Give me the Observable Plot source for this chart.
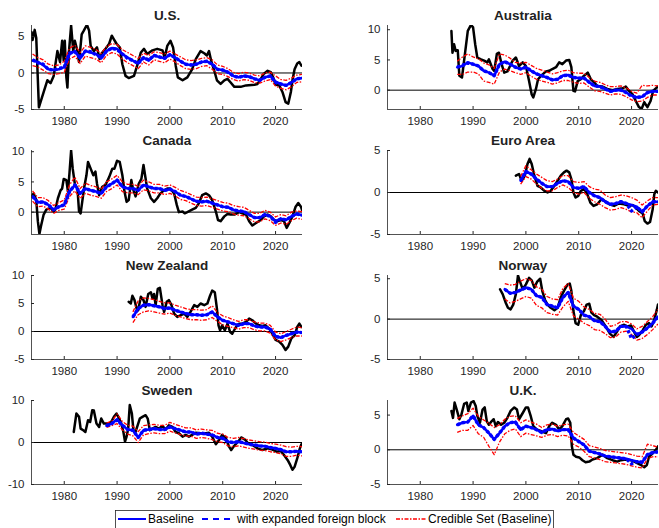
<!DOCTYPE html>
<html><head><meta charset="utf-8">
<script src="https://cdn.jsdelivr.net/npm/d3@7"></script>
<script src="https://cdn.jsdelivr.net/npm/@observablehq/plot@0.6"></script>
<style>
html,body{margin:0;padding:0;background:#fff;}
#chart{position:relative;width:659px;height:528px;overflow:hidden;font-family:"Liberation Sans",Arial,Helvetica,sans-serif;}
#chart svg{position:absolute;}
</style></head><body><div id="chart"></div>
<script>
// ---------- shared axis settings ----------
const xDomain = [1973.8, 2025.1];
const xTicks = [1980, 1990, 2000, 2010, 2020];
const legendLabels = ["Baseline", "with expanded foreign block", "Credible Set (Baseline)"];

// ---------- U.S. ----------
const usActual = [[1973.8,5.6],[1974.0,4.5],[1974.4,5.9],[1974.7,4.8],[1975.2,-4.7],[1975.8,-3.3],[1976.5,-1.7],[1976.8,-1.0],[1977.4,-1.4],[1978.0,-0.4],[1978.7,3.0],[1979.2,1.5],[1979.6,4.4],[1979.9,1.7],[1980.1,4.4],[1980.4,-0.6],[1980.6,-2.0],[1980.9,3.0],[1981.3,6.5],[1981.7,3.0],[1982.0,4.4],[1982.5,3.0],[1982.8,1.5],[1983.3,5.3],[1983.7,5.8],[1984.3,6.6],[1984.7,5.8],[1985.0,3.7],[1985.6,3.0],[1986.2,3.5],[1986.7,1.9],[1987.2,2.8],[1987.8,3.3],[1988.5,4.0],[1989.0,5.1],[1989.4,4.6],[1989.9,4.0],[1990.5,3.5],[1991.0,1.2],[1991.6,-0.4],[1992.2,-0.7],[1993.2,-0.4],[1993.8,1.0],[1994.5,2.8],[1995.1,3.3],[1995.7,2.6],[1996.7,3.1],[1997.6,3.3],[1998.6,3.1],[1999.0,2.1],[1999.5,3.7],[2000.1,4.4],[2000.6,3.5],[2001.1,1.0],[2001.5,-0.6],[2002.4,-1.0],[2003.3,-0.6],[2004.2,0.5],[2004.9,1.9],[2005.8,3.0],[2006.5,2.7],[2007.0,2.4],[2007.4,3.0],[2007.8,1.7],[2008.4,0.3],[2008.9,-1.0],[2009.6,-1.5],[2010.3,-1.0],[2010.9,-0.8],[2011.5,-1.3],[2012.2,-1.9],[2013.4,-1.9],[2014.4,-1.7],[2016.0,-1.6],[2016.6,-1.5],[2017.2,-0.8],[2017.8,-0.1],[2018.5,0.3],[2019.1,0.1],[2019.6,-0.7],[2020.0,-1.6],[2020.7,-1.7],[2021.3,-2.6],[2021.9,-4.0],[2022.4,-4.2],[2022.9,-2.6],[2023.2,-1.0],[2023.6,0.5],[2024.1,1.3],[2024.5,1.5],[2024.9,1.0]];
const usStart = 1974;
const usBase = [1.7,1.5,1.1,0.5,0.4,0.5,0.8,2.6,3.0,2.0, 3.0,2.8,2.6,2.0,3.0,3.4,3.3,2.6,2.1,1.7, 1.3,2.1,1.7,2.4,2.2,2.0,2.5,2.1,1.6,1.2, 1.1,1.2,1.5,1.6,1.2,0.5,0.4,0.1,-0.4,-0.6, -0.4,-0.5,-0.8,-1.0,-0.6,-0.4,-1.2,-1.5,-1.7,-1.3, -0.8,-0.7];
const usExp = [1.8,1.4,1.2,0.5,0.4,0.6,0.8,2.7,2.9,2.1, 3.0,2.9,2.5,2.1,3.0,3.4,3.2,2.6,2.0,1.7, 1.3,2.1,1.8,2.4,2.2,2.0,2.5,2.1,1.6,1.2, 1.1,1.2,1.5,1.6,1.2,0.5,0.4,0.1,-0.4,-0.6, -0.4,-0.5,-0.8,-1.0,-0.6,-0.4,-1.3,-1.5,-1.7,-1.3, -0.8,-0.7];
const usUpper = [2.6,2.1,1.8,1.2,1.0,1.1,1.6,3.4,3.8,2.8, 3.7,3.5,3.2,2.7,3.6,4.0,3.9,3.2,2.8,2.4, 2.0,2.7,2.4,2.9,2.8,2.6,3.0,2.6,2.2,1.8, 1.7,1.8,2.0,2.1,1.8,1.1,0.9,0.6,0.1,-0.1, 0.1,0.0,-0.3,-0.4,0.0,0.1,-0.4,-0.9,-1.0,-0.7, -0.3,-0.2];
const usLower = [1.0,0.8,0.4,-0.1,-0.2,-0.1,0.1,1.9,2.3,1.3, 2.3,2.1,1.9,1.4,2.4,2.8,2.6,1.9,1.4,1.0, 0.6,1.5,1.1,1.8,1.6,1.4,1.9,1.5,1.0,0.6, 0.5,0.6,0.9,1.0,0.5,-0.1,-0.2,-0.5,-0.9,-1.1, -0.9,-1.0,-1.3,-1.4,-1.1,-0.9,-1.8,-2.1,-2.3,-1.9, -1.3,-1.2];
const usYDomain = [-5, 6.5];
const usYTicks = [-5, 0, 5];

// ---------- Australia ----------
const auActual = [[1985.9,9.8],[1986.1,6.2],[1986.4,7.6],[1986.7,6.5],[1987.1,6.6],[1987.4,2.4],[1987.9,2.1],[1988.3,4.9],[1989.0,9.8],[1989.6,10.8],[1990.0,10.4],[1990.4,7.6],[1990.8,5.4],[1991.5,5.1],[1992.1,4.9],[1992.7,4.6],[1993.0,5.1],[1993.7,3.5],[1994.0,3.2],[1994.5,6.0],[1994.9,6.2],[1995.4,4.3],[1995.9,2.9],[1996.5,3.1],[1997.5,4.9],[1998.1,5.4],[1998.7,4.0],[1999.4,4.6],[2000.0,4.0],[2000.6,1.5],[2001.1,-0.7],[2001.4,-1.2],[2001.9,0.2],[2002.3,1.8],[2002.9,2.4],[2003.8,3.1],[2004.4,3.2],[2005.0,3.5],[2005.7,3.8],[2006.3,4.6],[2006.9,4.3],[2007.6,4.9],[2008.2,5.0],[2008.6,3.8],[2009.0,-0.1],[2009.3,-0.2],[2009.8,1.5],[2010.4,1.8],[2011.0,2.4],[2011.7,2.9],[2012.3,1.8],[2012.9,1.3],[2013.5,0.7],[2014.5,0.6],[2015.4,0.2],[2016.4,0.0],[2017.3,0.2],[2018.3,0.3],[2018.9,0.6],[2019.5,-0.1],[2020.2,-0.7],[2020.8,-1.8],[2021.4,-2.8],[2021.9,-3.1],[2022.4,-2.0],[2023.0,-2.8],[2023.6,-1.8],[2024.1,-0.1],[2024.6,0.3],[2025.0,0.6]];
const auStart = 1987;
const auBase = [3.8,4.0,4.6,4.3,4.0,3.2,2.9,2.4,4.3,4.7, 4.3,3.8,3.5,3.8,3.2,2.7,2.4,2.1,1.7,1.8, 2.4,2.5,2.1,2.0,2.0,1.3,0.7,0.6,0.2,-0.2, 0.0,0.0,-0.4,-0.9,-1.2,-1.1,-0.4,-0.2,-0.2];
const auExp = [3.8,4.1,4.5,4.3,4.0,3.2,2.9,2.4,4.3,4.7, 4.3,3.8,3.5,3.8,3.2,2.7,2.4,2.1,1.7,1.8, 2.4,2.5,2.1,2.0,2.0,1.3,0.7,0.6,0.2,-0.2, 0.0,0.0,-0.4,-1.0,-1.2,-1.1,-0.4,-0.2,-0.2];
const auUpper = [4.8,5.5,6.0,5.5,5.2,4.5,4.2,3.6,6.0,5.8, 5.3,4.6,4.5,4.6,4.1,3.6,3.3,3.0,2.7,2.9, 3.2,3.3,2.9,2.8,2.8,2.1,1.5,1.3,0.9,0.6, 0.6,0.7,0.4,-0.2,-0.5,0.8,0.7,0.8,0.7];
const auLower = [2.6,2.6,3.0,3.0,2.7,1.5,1.3,1.0,3.0,3.5, 3.2,2.9,2.6,2.9,2.3,1.8,1.5,1.3,1.0,1.2, 1.6,1.6,1.3,1.1,1.2,0.5,-0.1,-0.2,-0.5,-0.8, -0.6,-0.7,-1.1,-1.6,-1.9,-1.8,-1.2,-0.8,-0.8];
const auYDomain = [-3.2, 10.7];
const auYTicks = [0, 5, 10];

// ---------- Canada ----------
const caActual = [[1973.8,2.6],[1974.2,3.1],[1974.7,2.0],[1975.0,-1.5],[1975.3,-3.6],[1975.6,-2.3],[1976.1,-0.4],[1976.6,0.4],[1977.4,0.7],[1978.0,0.1],[1978.3,0.4],[1978.8,2.3],[1979.3,3.6],[1979.6,3.9],[1979.9,5.5],[1980.4,5.3],[1980.7,3.4],[1981.0,6.6],[1981.3,10.2],[1981.6,7.2],[1982.0,4.7],[1982.5,3.9],[1982.8,0.1],[1983.1,-0.2],[1983.4,1.7],[1983.8,4.2],[1984.2,6.1],[1984.5,8.3],[1985.0,7.2],[1985.5,6.1],[1985.9,6.7],[1986.2,4.7],[1986.6,2.8],[1987.2,4.2],[1987.8,4.5],[1988.5,5.8],[1989.1,7.2],[1989.5,7.2],[1990.0,8.5],[1990.5,8.3],[1991.0,6.1],[1991.4,3.4],[1991.8,1.7],[1992.2,2.0],[1992.7,5.3],[1993.0,3.9],[1993.5,2.6],[1994.1,4.7],[1994.6,5.5],[1995.0,7.8],[1995.3,6.1],[1995.7,3.9],[1996.4,2.3],[1997.0,1.7],[1997.6,2.3],[1998.2,3.1],[1998.9,3.6],[1999.5,3.9],[2000.1,3.9],[2000.8,3.1],[2001.3,1.2],[2001.7,0.0],[2002.4,0.1],[2002.8,-0.2],[2003.3,0.0],[2004.2,0.4],[2004.9,0.7],[2005.5,1.5],[2006.1,2.8],[2006.8,3.1],[2007.4,2.8],[2008.0,2.0],[2008.7,0.1],[2009.1,-1.3],[2009.6,-1.5],[2010.3,-0.7],[2010.9,-0.3],[2011.5,-0.4],[2012.2,-0.4],[2013.1,0.0],[2013.7,-0.2],[2014.4,-0.4],[2015.0,-1.5],[2015.6,-2.2],[2016.3,-1.8],[2017.2,-1.3],[2017.8,-0.7],[2018.5,-0.4],[2019.1,-0.7],[2019.7,-1.3],[2020.4,-1.5],[2021.0,-1.3],[2021.6,-1.5],[2022.1,-2.6],[2022.6,-1.8],[2023.2,-0.7],[2023.8,0.9],[2024.3,1.5],[2024.8,0.9],[2025.0,0.4]];
const caStart = 1974;
const caBase = [2.6,1.6,1.7,1.2,0.4,0.9,1.2,3.4,4.5,3.1, 3.9,3.6,3.4,3.1,4.2,4.7,5.3,4.2,3.9,3.9, 3.6,4.5,4.2,3.9,3.9,3.6,3.8,3.4,2.8,2.6, 2.2,1.8,1.7,1.8,1.5,1.2,0.9,0.8,0.4,0.2, 0.1,-0.4,-0.9,-0.9,-0.4,-0.7,-1.5,-1.1,-1.3,-0.7, -0.3,-0.5];
const caExp = [2.6,1.6,1.7,1.2,0.4,0.9,1.2,3.4,4.5,3.1, 3.9,3.6,3.4,3.1,4.2,4.7,5.3,4.2,3.9,3.9, 3.6,4.5,4.2,3.9,3.9,3.6,3.8,3.4,2.8,2.6, 2.2,1.8,1.7,1.8,1.5,1.2,0.9,0.8,0.4,0.2, 0.1,-0.4,-0.9,-0.9,-0.4,-0.7,-1.7,-1.1,-1.3,-0.7, -0.3,-0.5];
const caUpper = [3.5,2.4,2.4,1.9,1.1,1.6,2.0,4.5,5.8,3.9, 4.8,4.4,4.2,3.8,5.0,5.5,6.1,5.0,4.6,4.6, 4.3,5.3,5.0,4.6,4.6,4.3,4.5,4.1,3.6,3.3, 2.9,2.5,2.4,2.5,2.2,1.9,1.6,1.5,1.1,0.9, 0.8,0.3,-0.2,-0.2,0.3,0.0,-0.8,-0.4,-0.6,0.0, 0.2,0.1];
const caLower = [1.8,0.9,1.0,0.5,-0.2,0.3,0.5,2.6,3.5,2.3, 3.1,2.8,2.6,2.3,3.4,3.9,4.5,3.4,3.2,3.2, 2.9,3.7,3.5,3.2,3.2,2.9,3.1,2.7,2.1,1.9, 1.5,1.1,1.0,1.1,0.8,0.5,0.2,0.1,-0.3,-0.5, -0.6,-1.1,-1.6,-1.6,-1.1,-1.4,-2.2,-1.8,-2.0,-1.4, -1.0,-1.2];
const caYDomain = [-3.7, 10.2];
const caYTicks = [0, 5, 10];

// ---------- Euro Area ----------
const euActual = [[1998.1,2.0],[1998.7,2.2],[1999.2,1.4],[1999.8,2.0],[2000.3,3.4],[2000.7,4.0],[2001.1,3.4],[2001.6,2.0],[2002.2,0.8],[2002.8,0.6],[2003.5,0.2],[2004.1,0.0],[2004.7,0.2],[2005.4,0.8],[2006.0,1.4],[2006.6,2.0],[2007.2,2.4],[2007.7,2.6],[2008.2,2.4],[2008.6,1.6],[2009.0,0.0],[2009.4,-0.6],[2009.9,-0.4],[2010.4,0.2],[2011.0,0.4],[2011.5,0.0],[2012.2,-1.2],[2012.8,-1.6],[2013.5,-1.4],[2014.3,-0.8],[2014.9,-1.0],[2015.8,-1.4],[2016.7,-1.6],[2017.6,-1.3],[2018.6,-1.4],[2019.5,-1.6],[2020.2,-1.5],[2020.8,-1.8],[2021.4,-2.2],[2022.1,-2.5],[2022.5,-3.4],[2023.0,-3.7],[2023.5,-3.5],[2024.0,-2.0],[2024.3,-0.2],[2024.6,0.2],[2025.0,0.0]];
const euStart = 1999;
const euBase = [1.4,2.5,2.2,1.6,1.1,0.7,0.7,1.1,1.4,1.3, 0.6,0.5,0.7,0.0,-0.4,-0.6,-1.1,-1.4,-1.3,-1.1, -1.3,-1.5,-1.7,-2.3,-1.6,-1.1,-1.1];
const euExp = [1.4,2.5,2.2,1.6,1.1,0.7,0.7,1.1,1.4,1.3, 0.6,0.5,0.7,0.0,-0.4,-0.6,-1.1,-1.4,-1.3,-1.1, -1.3,-2.2,-1.7,-2.3,-1.6,-1.1,-1.1];
const euUpper = [1.9,3.2,2.7,2.2,1.8,1.4,1.3,1.6,2.0,2.0, 1.3,1.2,1.3,0.7,0.4,0.3,-0.3,-0.6,-0.5,-0.3, -0.4,-0.6,-0.9,-1.5,-1.0,-0.6,-0.6];
const euLower = [1.0,1.9,1.6,1.0,0.5,0.2,0.2,0.6,0.9,0.6, 0.0,-0.2,0.0,-0.7,-1.1,-1.4,-1.8,-2.1,-2.0,-1.8, -2.0,-2.3,-2.4,-3.0,-2.2,-1.5,-1.4];
const euYDomain = [-5, 5];
const euYTicks = [-5, 0, 5];

// ---------- New Zealand ----------
const nzActual = [[1992.2,5.3],[1992.6,5.0],[1992.9,6.4],[1993.3,5.6],[1993.7,4.1],[1994.0,3.8],[1994.5,6.2],[1995.0,5.6],[1995.4,4.4],[1995.9,6.7],[1996.4,7.0],[1996.7,5.9],[1997.0,6.7],[1997.3,4.7],[1997.7,7.6],[1998.1,7.8],[1998.6,4.7],[1998.9,3.5],[1999.4,5.3],[1999.8,5.6],[2000.3,4.7],[2000.8,3.2],[2001.4,2.6],[2002.0,2.9],[2002.7,3.2],[2003.3,2.6],[2003.9,3.5],[2004.6,4.7],[2005.2,4.4],[2005.8,5.0],[2006.5,4.7],[2007.1,5.0],[2007.6,6.4],[2008.0,7.3],[2008.5,7.0],[2008.9,4.1],[2009.2,1.1],[2009.5,0.2],[2009.9,1.1],[2010.4,0.2],[2010.9,1.4],[2011.4,-0.1],[2011.8,-0.4],[2012.5,0.8],[2013.1,1.4],[2013.7,1.4],[2014.4,1.7],[2015.0,2.3],[2015.6,2.0],[2016.3,1.4],[2016.9,1.1],[2017.5,1.0],[2018.1,1.1],[2018.8,0.5],[2019.4,-0.4],[2020.0,-1.5],[2020.7,-1.8],[2021.3,-2.4],[2021.9,-3.3],[2022.4,-2.7],[2023.0,-1.2],[2023.6,-0.7],[2024.1,0.8],[2024.5,1.4],[2024.9,0.8]];
const nzStart = 1993;
const nzBase = [2.6,4.1,4.7,4.8,4.6,4.4,4.1,4.2,3.8,3.5, 3.2,3.0,3.0,2.9,3.0,3.5,2.6,2.0,1.7,1.4, 1.1,1.4,1.4,1.0,0.8,0.8,0.4,-0.8,-1.1,-0.7, -0.4,-0.1,-0.2];
const nzExp = [2.6,4.1,4.7,4.8,4.6,4.4,4.1,4.2,3.8,3.5, 3.2,3.0,3.0,2.9,3.0,3.5,2.6,2.0,1.7,1.4, 1.1,1.4,1.4,1.0,0.8,0.8,0.4,-0.9,-1.1,-0.7, -0.4,-0.1,-0.2];
const nzUpper = [3.5,5.5,6.0,5.9,5.7,5.4,5.1,5.1,4.7,4.4, 4.1,3.9,3.9,3.8,3.9,4.6,3.4,2.8,2.5,2.1, 1.8,2.1,2.1,1.7,1.5,1.5,1.1,-0.1,-0.4,0.0, 0.4,0.8,0.7];
const nzLower = [1.6,3.0,3.5,3.7,3.5,3.3,3.1,3.3,2.9,2.6, 2.3,2.1,2.1,2.0,2.1,2.5,1.8,1.2,0.9,0.7, 0.4,0.7,0.7,0.3,0.1,0.1,-0.3,-1.5,-1.8,-1.5, -1.1,-0.8,-0.8];
const nzYDomain = [-5, 10];
const nzYTicks = [-5, 0, 5, 10];

// ---------- Norway ----------
const noActual = [[1995.1,3.7],[1995.6,3.1],[1996.2,2.0],[1996.6,1.4],[1997.1,1.2],[1997.6,1.8],[1998.1,3.1],[1998.5,5.4],[1998.8,4.8],[1999.4,3.7],[2000.0,4.3],[2000.6,5.1],[2001.1,4.8],[2001.6,3.9],[2002.1,4.6],[2002.7,5.0],[2003.1,3.5],[2003.6,2.4],[2004.1,1.8],[2004.7,1.4],[2005.4,1.1],[2006.0,1.4],[2006.6,2.7],[2007.2,3.5],[2007.9,4.3],[2008.3,4.4],[2008.6,3.5],[2009.0,1.0],[2009.4,-0.5],[2009.9,-0.7],[2010.4,0.5],[2011.0,1.0],[2011.5,1.8],[2012.0,1.9],[2012.4,0.8],[2012.9,0.5],[2013.5,0.3],[2014.3,-0.1],[2015.1,-0.9],[2015.9,-1.8],[2016.6,-2.2],[2017.2,-1.6],[2017.8,-0.9],[2018.6,-0.7],[2019.2,-0.9],[2019.9,-0.8],[2020.5,-1.6],[2021.0,-2.2],[2021.4,-2.0],[2022.1,-1.4],[2022.7,-0.7],[2023.3,-0.5],[2023.8,-0.9],[2024.3,-0.1],[2024.8,1.2],[2025.0,1.8]];
const noStart = 1996;
const noBase = [3.7,3.2,3.3,3.6,3.9,3.7,2.9,2.7,1.8,1.6, 1.4,2.7,3.3,1.6,1.2,0.5,0.3,-0.2,-0.3,-0.9, -1.6,-1.5,-0.9,-0.9,-1.2,-1.9,-1.6,-1.1,-0.5,0.3];
const noExp = [3.7,3.2,3.3,3.6,3.9,3.7,2.9,2.7,1.8,1.6, 1.4,2.7,3.3,1.6,1.2,0.5,0.3,-0.2,-0.3,-0.9, -1.6,-1.5,-0.9,-0.9,-2.4,-1.9,-1.6,-1.1,-0.5,0.3];
const noUpper = [4.4,4.2,4.3,4.7,5.0,4.8,4.0,3.7,2.8,2.5, 2.4,3.8,4.4,2.6,2.2,1.5,1.2,0.7,0.6,0.0, -0.9,-0.7,-0.3,-0.3,-0.6,-1.2,-0.9,-0.3,0.3,1.2];
const noLower = [2.5,2.0,2.2,2.5,2.8,2.6,1.7,1.4,0.8,0.6, 0.5,1.5,2.2,0.4,0.0,-0.5,-0.8,-1.3,-1.4,-1.8, -2.3,-2.2,-1.6,-1.5,-1.9,-2.6,-2.4,-1.9,-1.3,-0.6];
const noYDomain = [-5, 5.4];
const noYTicks = [-5, 0, 5];

// ---------- Sweden ----------
const seActual = [[1981.8,2.5],[1982.3,6.9],[1982.8,6.1],[1983.1,3.3],[1983.6,2.9],[1984.0,2.5],[1984.5,5.3],[1984.9,4.9],[1985.3,7.7],[1985.6,7.6],[1986.1,4.5],[1986.6,3.7],[1987.0,5.7],[1987.5,4.5],[1988.1,4.5],[1988.8,4.7],[1989.4,6.1],[1989.9,6.9],[1990.4,5.7],[1990.8,4.5],[1991.2,2.5],[1991.5,0.2],[1991.8,1.4],[1992.1,3.3],[1992.4,8.9],[1992.8,6.9],[1993.1,2.9],[1993.4,2.2],[1993.8,3.7],[1994.3,5.7],[1994.8,6.1],[1995.4,6.5],[1995.8,5.7],[1996.2,2.9],[1996.7,3.3],[1997.3,3.7],[1997.9,3.3],[1998.6,3.9],[1999.2,3.1],[1999.8,4.1],[2000.5,3.7],[2001.1,2.5],[2001.7,2.2],[2002.4,1.4],[2003.0,1.8],[2003.6,1.4],[2004.2,1.8],[2004.9,2.3],[2005.8,2.2],[2006.8,2.2],[2007.4,2.3],[2008.0,1.4],[2008.7,-0.4],[2009.3,0.6],[2009.9,1.8],[2010.6,1.0],[2011.2,-1.0],[2011.6,-1.8],[2012.1,-0.9],[2012.9,0.2],[2013.5,1.2],[2014.2,0.7],[2014.8,-0.2],[2015.6,-0.6],[2016.6,-1.4],[2017.5,-1.8],[2018.5,-1.4],[2019.4,-1.7],[2020.2,-2.2],[2021.0,-2.0],[2021.6,-3.0],[2022.3,-4.2],[2022.8,-5.4],[2023.2,-6.5],[2023.6,-5.8],[2024.1,-3.8],[2024.6,-1.4],[2024.9,-0.4]];
const seStart = 1988;
const seBase = [4.0,4.5,5.5,4.1,3.1,2.9,1.2,2.9,3.1,3.3, 3.1,3.1,3.7,3.3,2.9,2.5,2.5,2.0,2.2,2.0, 1.8,1.2,1.0,0.2,0.0,0.2,-0.1,-0.4,-0.6,-0.8, -0.9,-1.2,-1.4,-1.7,-2.2,-2.2,-2.1,-2.2];
const seExp = [4.0,4.5,5.4,4.1,3.1,2.9,1.2,2.9,3.1,3.3, 3.1,3.1,3.7,3.3,2.9,2.5,2.5,2.0,2.2,2.0, 1.8,1.2,1.0,0.2,0.0,0.2,-0.1,-0.4,-0.6,-0.8, -0.9,-1.2,-1.4,-1.7,-2.2,-2.2,-2.1,-2.2];
const seUpper = [4.6,5.1,6.8,5.0,4.1,3.9,2.6,4.0,4.2,4.3, 4.1,4.1,4.8,4.3,3.9,3.5,3.5,3.0,3.2,3.0, 2.9,2.2,2.0,1.2,1.0,1.2,0.9,0.6,0.4,0.2, 0.1,-0.2,-0.4,-0.6,-1.0,-1.1,-0.9,-1.0];
const seLower = [3.6,4.0,4.5,3.0,2.0,1.6,0.0,1.8,2.1,2.3, 2.1,2.1,2.7,2.3,1.9,1.5,1.5,1.0,1.2,1.0, 0.7,0.2,0.0,-0.8,-1.0,-0.8,-1.1,-1.4,-1.6,-1.8, -1.9,-2.2,-2.4,-2.7,-3.3,-3.3,-3.0,-3.2];
const seYDomain = [-10, 10];
const seYTicks = [-10, 0, 10];

// ---------- U.K. ----------
const ukActual = [[1985.9,5.6],[1986.2,4.6],[1986.5,6.8],[1986.9,5.8],[1987.4,4.4],[1987.8,5.1],[1988.3,6.6],[1988.8,6.8],[1989.1,5.6],[1989.6,6.8],[1990.1,7.0],[1990.5,6.3],[1990.8,4.9],[1991.3,3.9],[1991.8,5.8],[1992.2,6.1],[1992.6,4.1],[1993.0,3.6],[1993.5,4.1],[1993.9,4.4],[1994.3,3.4],[1994.7,4.0],[1995.3,3.6],[1995.9,3.9],[1996.5,4.6],[1997.1,5.6],[1997.8,6.1],[1998.3,5.8],[1998.7,4.4],[1999.4,5.3],[2000.0,6.1],[2000.4,6.1],[2000.9,4.9],[2001.4,3.4],[2002.1,2.9],[2002.8,2.7],[2003.8,2.4],[2004.4,3.4],[2005.0,3.9],[2005.7,3.6],[2006.3,2.9],[2006.9,3.4],[2007.6,4.4],[2008.0,4.5],[2008.4,3.9],[2008.7,0.5],[2009.0,-0.7],[2009.5,-1.0],[2010.1,-1.1],[2010.7,-1.5],[2011.3,-1.8],[2012.0,-1.7],[2012.6,-1.4],[2013.5,-1.2],[2014.5,-0.7],[2015.4,-1.2],[2016.4,-1.5],[2017.3,-1.7],[2018.0,-1.5],[2018.9,-1.4],[2019.9,-1.5],[2020.8,-1.8],[2021.8,-2.2],[2022.4,-2.5],[2022.9,-2.2],[2023.3,-1.0],[2024.0,-0.5],[2024.6,0.0],[2025.0,0.5]];
const ukStart = 1987;
const ukBase = [3.6,3.9,4.0,4.9,3.6,3.2,2.4,1.5,2.4,3.4, 3.9,4.0,2.9,3.4,3.2,2.9,2.5,2.9,3.0,2.7, 2.9,2.9,1.7,1.2,0.7,-0.2,-0.4,-0.6,-0.9,-1.0, -1.1,-1.2,-1.3,-1.5,-1.7,-1.8,-0.7,-0.4,-0.3];
const ukExp = [3.6,3.9,4.0,4.9,3.6,3.2,2.4,1.5,2.4,3.4, 3.9,4.0,2.9,3.4,3.2,2.9,2.5,2.9,3.0,2.7, 2.9,2.9,1.7,1.2,0.7,-0.2,-0.4,-0.6,-0.9,-1.0, -1.1,-1.2,-1.3,-2.0,-1.7,-1.8,-0.7,-0.4,-0.3];
const ukUpper = [4.5,4.9,5.2,6.0,4.8,4.3,3.8,3.2,3.6,4.4, 4.8,4.9,3.9,4.3,4.0,3.7,3.2,3.6,3.7,3.4, 3.6,3.7,2.5,2.0,1.5,0.6,0.4,0.2,-0.1,-0.2, -0.3,-0.4,-0.5,-0.7,-0.9,-1.0,0.8,0.6,0.4];
const ukLower = [2.5,2.8,2.8,3.5,2.3,1.8,0.5,-0.7,1.1,2.3, 2.8,3.0,1.9,2.4,2.2,2.0,1.8,2.1,2.2,1.9, 2.1,2.0,0.8,0.4,-0.2,-1.0,-1.2,-1.4,-1.7,-1.8, -1.9,-2.0,-2.1,-2.3,-2.5,-2.6,-1.3,-1.0,-1.0];
const ukYDomain = [-5, 7.1];
const ukYTicks = [-5, 0, 5];

// ---------- panel table built from the arrays ----------
const panels = [
  {name:"U.S.", row:0, col:0, actual:usActual, start:usStart, base:usBase, exp:usExp, upper:usUpper, lower:usLower, yDomain:usYDomain, yTicks:usYTicks},
  {name:"Australia", row:0, col:1, actual:auActual, start:auStart, base:auBase, exp:auExp, upper:auUpper, lower:auLower, yDomain:auYDomain, yTicks:auYTicks},
  {name:"Canada", row:1, col:0, actual:caActual, start:caStart, base:caBase, exp:caExp, upper:caUpper, lower:caLower, yDomain:caYDomain, yTicks:caYTicks},
  {name:"Euro Area", row:1, col:1, actual:euActual, start:euStart, base:euBase, exp:euExp, upper:euUpper, lower:euLower, yDomain:euYDomain, yTicks:euYTicks},
  {name:"New Zealand", row:2, col:0, actual:nzActual, start:nzStart, base:nzBase, exp:nzExp, upper:nzUpper, lower:nzLower, yDomain:nzYDomain, yTicks:nzYTicks},
  {name:"Norway", row:2, col:1, actual:noActual, start:noStart, base:noBase, exp:noExp, upper:noUpper, lower:noLower, yDomain:noYDomain, yTicks:noYTicks},
  {name:"Sweden", row:3, col:0, actual:seActual, start:seStart, base:seBase, exp:seExp, upper:seUpper, lower:seLower, yDomain:seYDomain, yTicks:seYTicks},
  {name:"U.K.", row:3, col:1, actual:ukActual, start:ukStart, base:ukBase, exp:ukExp, upper:ukUpper, lower:ukLower, yDomain:ukYDomain, yTicks:ukYTicks}
];

const FONT = '"Liberation Sans", Arial, Helvetica, sans-serif';
const AXIS = "#262626";
const RED_DASH = "4,1.5,1.5,1.5";
const chart = document.getElementById("chart");

panels.forEach(p => {
  const left = p.col === 0;
  const rows = vals => vals.map((v, i) => ({year: p.start + i, value: v}));
  const svg = Plot.plot({
    width: left ? 330 : 329,
    height: 128,
    marginTop: 25,
    marginBottom: 19,
    marginLeft: left ? 31 : 57,
    marginRight: left ? 28 : 1,
    style: {background: "transparent", fontFamily: FONT, fontSize: "11.5px", color: AXIS, overflow: "visible"},
    x: {domain: xDomain},
    y: {domain: p.yDomain},
    marks: [
      Plot.ruleY([0], {stroke: "#000", strokeWidth: 1}),
      Plot.line(p.actual, {x: d => d[0], y: d => d[1], stroke: "#000", strokeWidth: 2.5, clip: true}),
      Plot.line(rows(p.upper), {x: "year", y: "value", stroke: "#ff0000", strokeWidth: 1.3, strokeDasharray: RED_DASH, strokeLinecap: "butt", clip: true}),
      Plot.line(rows(p.lower), {x: "year", y: "value", stroke: "#ff0000", strokeWidth: 1.3, strokeDasharray: RED_DASH, strokeLinecap: "butt", clip: true}),
      Plot.line(rows(p.base), {x: "year", y: "value", stroke: "#0000ff", strokeWidth: 2.6, clip: true}),
      Plot.line(rows(p.exp), {x: "year", y: "value", stroke: "#0000ff", strokeWidth: 3.4, strokeDasharray: "3,2", strokeLinecap: "butt", clip: true}),
      Plot.ruleX([xDomain[0]], {stroke: AXIS, strokeWidth: 0.8}),
      Plot.ruleY([p.yDomain[0]], {stroke: AXIS, strokeWidth: 0.8}),
      Plot.axisX({ticks: xTicks, tickFormat: d => String(d), tickSize: -3, tickPadding: 10, label: null}),
      Plot.axisY({ticks: p.yTicks, tickFormat: d => String(d), tickSize: -3, tickPadding: 10, label: null}),
      Plot.text([p.name], {frameAnchor: "top", lineAnchor: "bottom", dy: -6, fontWeight: "bold", fontSize: 13.5, fill: "#222"})
    ]
  });
  svg.style.left = (left ? 0 : 330) + "px";
  svg.style.top = (p.row * 125) + "px";
  chart.appendChild(svg);
});

// ---------- legend (below the panels) ----------
const lg = d3.create("svg")
  .attr("width", 439).attr("height", 19)
  .style("left", "115px").style("top", "510px")
  .style("font-family", FONT).style("font-size", "12px");
lg.append("rect").attr("x", 0.5).attr("y", 0.5).attr("width", 438).attr("height", 30)
  .attr("fill", "#fff").attr("stroke", AXIS).attr("stroke-width", 0.8);
const items = [
  {x0: 3, x1: 31, tx: 33, stroke: "#0000ff", dash: null, w: 2},
  {x0: 87, x1: 115, tx: 122, stroke: "#0000ff", dash: "6,5", w: 2},
  {x0: 281, x1: 311, tx: 313, stroke: "#ff0000", dash: RED_DASH, w: 1.3}
];
items.forEach((it, i) => {
  lg.append("line").attr("x1", it.x0).attr("x2", it.x1).attr("y1", 9).attr("y2", 9)
    .attr("stroke", it.stroke).attr("stroke-width", it.w).attr("stroke-dasharray", it.dash);
  lg.append("text").attr("x", it.tx).attr("y", 13.2).attr("fill", "#000").text(legendLabels[i]);
});
chart.appendChild(lg.node());
</script></body></html>
